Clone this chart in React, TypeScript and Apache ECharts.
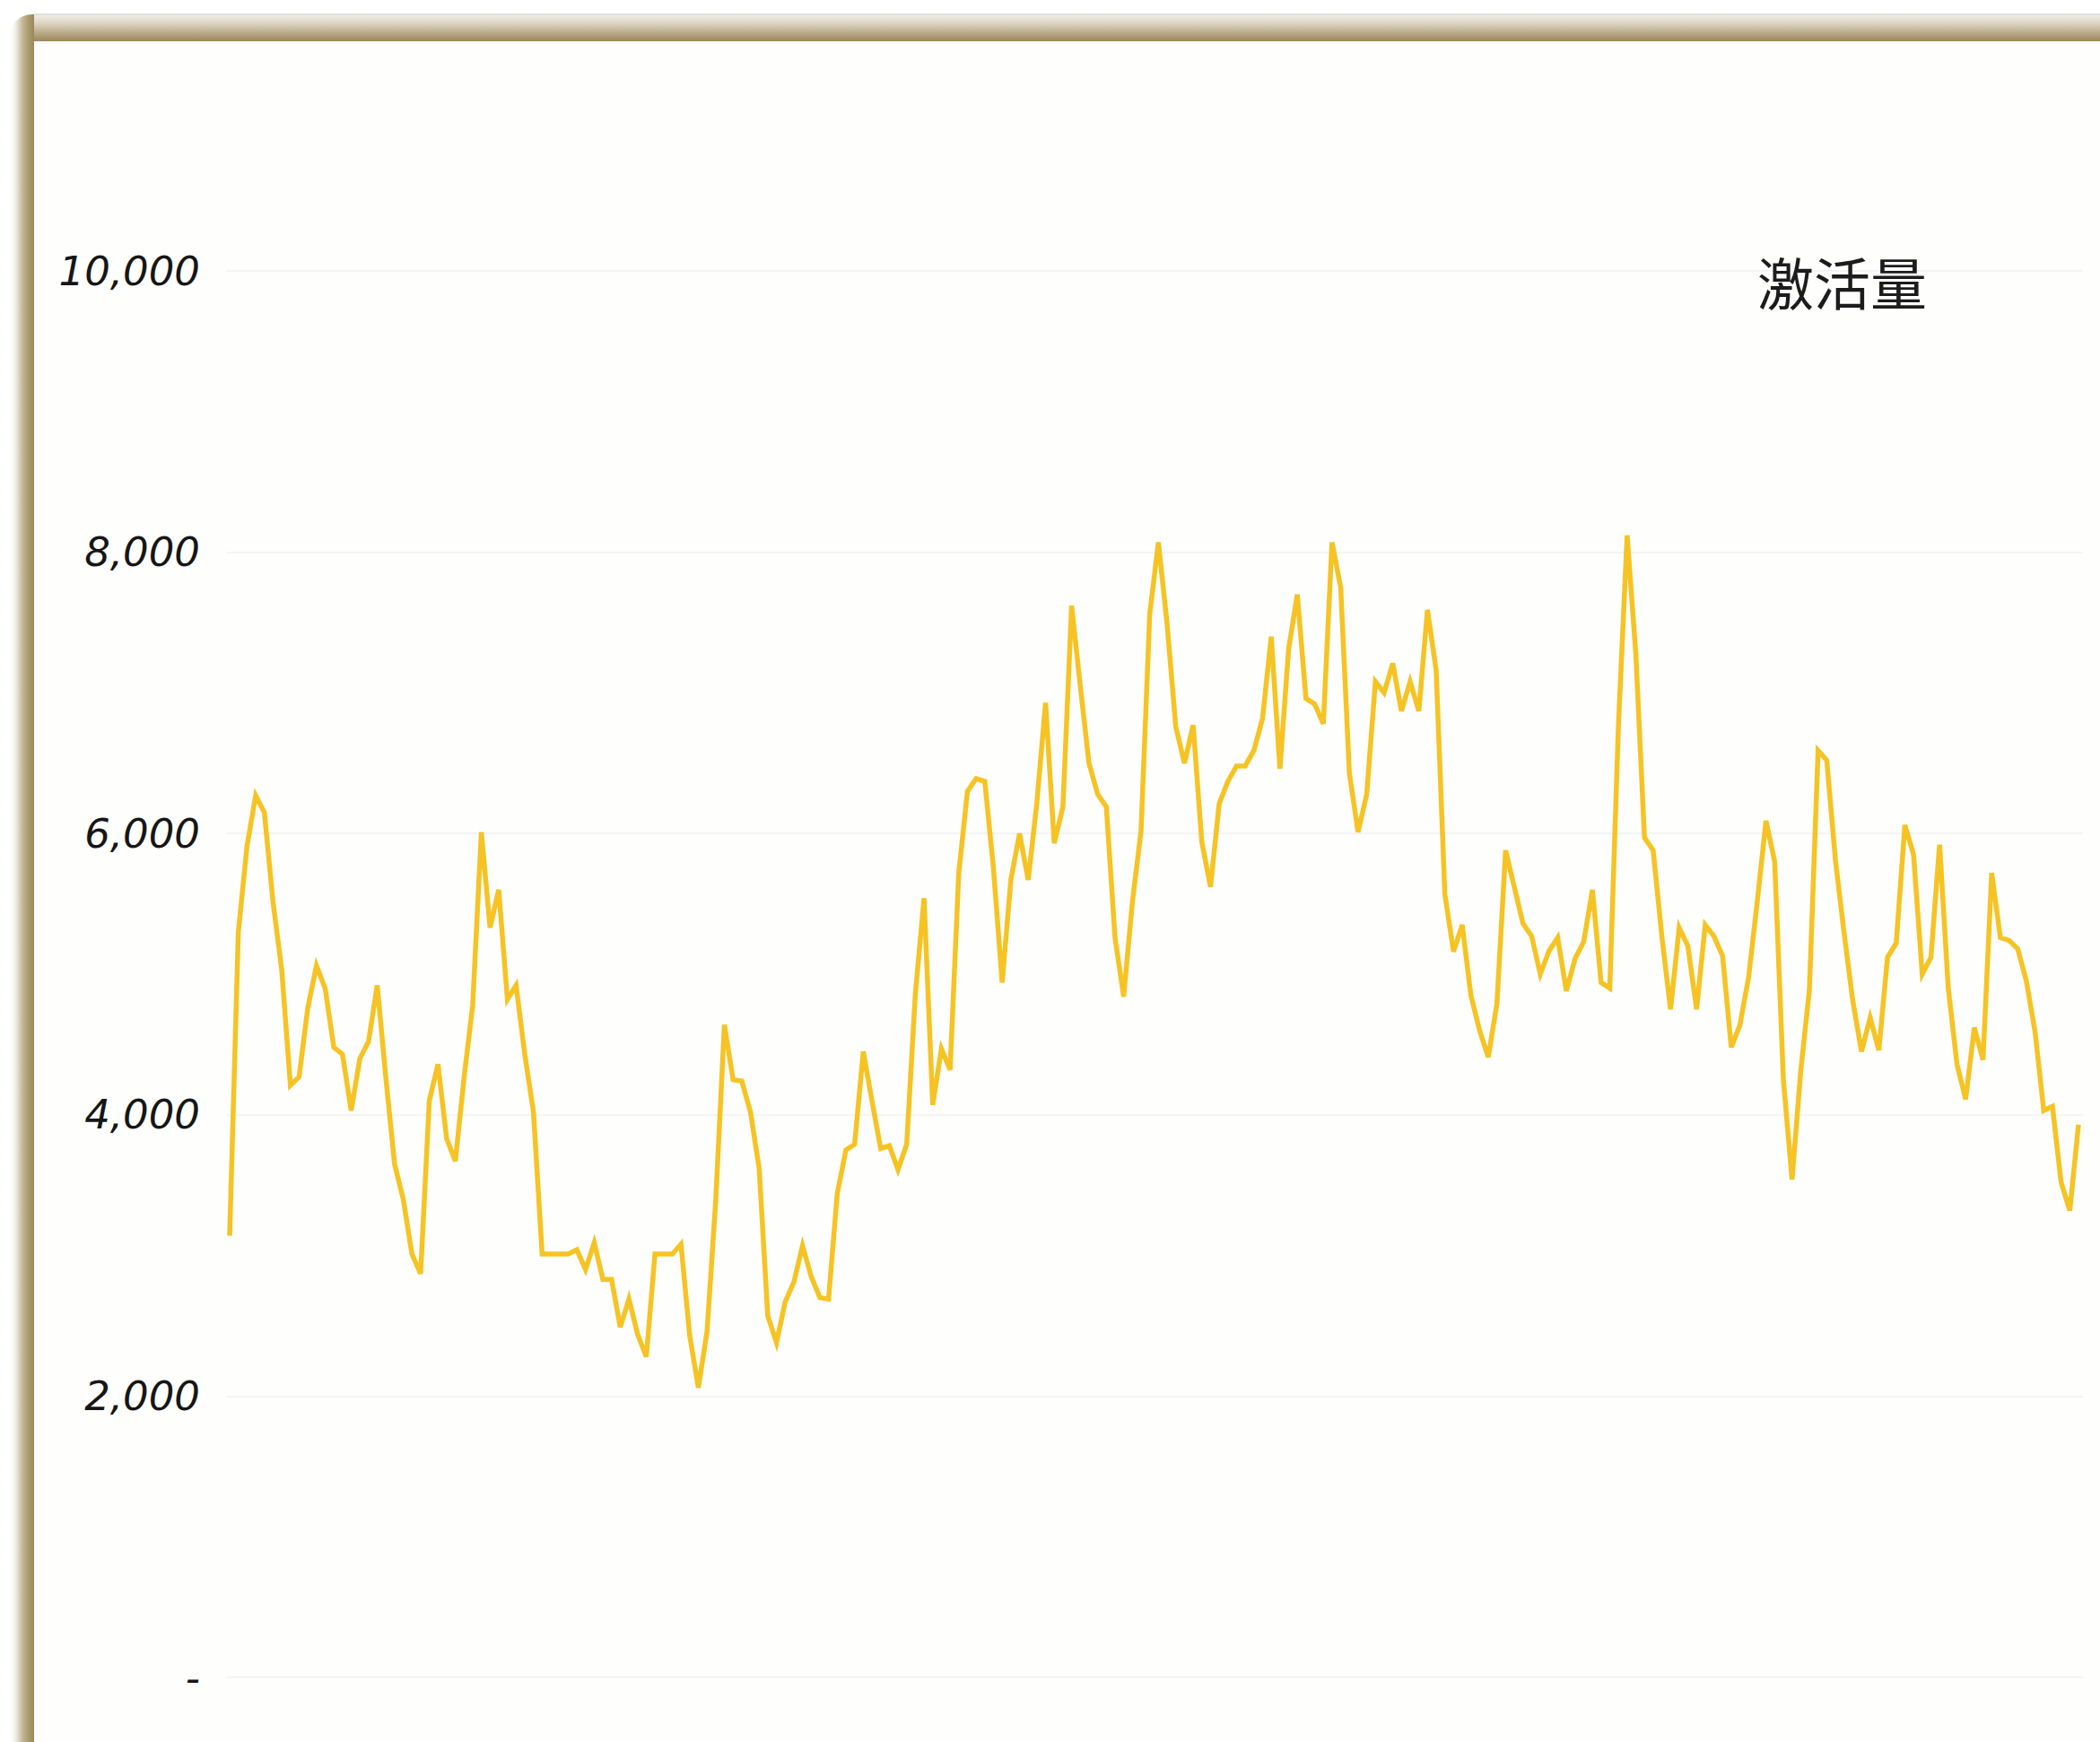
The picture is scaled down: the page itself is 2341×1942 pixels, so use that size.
import { useEffect, useRef } from "react";
import * as echarts from "echarts";

// Daily activation counts
const activations: number[] = [
  3140, 5300, 5910, 6270, 6150, 5510, 5030, 4210, 4270, 4760,
  5060, 4900, 4480, 4430, 4030, 4400, 4520, 4920, 4260, 3650,
  3400, 3010, 2870, 4100, 4360, 3830, 3670, 4260, 4780, 6010,
  5330, 5600, 4820, 4920, 4430, 4020, 3010, 3010, 3010, 3010,
  3040, 2900, 3090, 2830, 2830, 2490, 2690, 2440, 2280, 3010,
  3010, 3010, 3080, 2430, 2060, 2460, 3390, 4640, 4250, 4240,
  4020, 3620, 2570, 2380, 2670, 2810, 3070, 2850, 2700, 2690,
  3440, 3750, 3790, 4450, 4100, 3760, 3780, 3610, 3790, 4860,
  5540, 4070, 4470, 4320, 5720, 6300, 6390, 6370, 5750, 4940,
  5670, 6000, 5670, 6220, 6930, 5930, 6190, 7620, 7050, 6500,
  6280, 6190, 5260, 4840, 5510, 6020, 7560, 8070, 7490, 6760,
  6500, 6770, 5940, 5620, 6210, 6370, 6480, 6480, 6590, 6820,
  7400, 6460, 7310, 7700, 6960, 6920, 6780, 8070, 7750, 6430,
  6010, 6280, 7080, 7000, 7210, 6870, 7080, 6870, 7590, 7160,
  5570, 5160, 5350, 4850, 4600, 4410, 4790, 5880, 5620, 5360,
  5270, 5000, 5165, 5260, 4880, 5110, 5230, 5600, 4940, 4900,
  6770, 8120, 7280, 5970, 5880, 5270, 4750, 5330, 5200, 4750,
  5350, 5270, 5130, 4480, 4640, 4980, 5520, 6090, 5800, 4250,
  3540, 4310, 4890, 6590, 6520, 5810, 5290, 4810, 4450, 4690,
  4460, 5120, 5220, 6060, 5850, 5000, 5120, 5920, 4900, 4360,
  4110, 4620, 4390, 5720, 5260, 5240, 5180, 4950, 4590, 4030,
  4060, 3520, 3320, 3930,
];

// One category per day
const days: string[] = activations.map((_, i) => `第${i + 1}天`);

// Value axis ticks
const yTicks: number[] = [0, 2000, 4000, 6000, 8000, 10000];

const seriesName = "激活量";

export default function App() {
  const ref = useRef<HTMLDivElement>(null);

  useEffect(() => {
    document.body.style.margin = "0";
    document.body.style.overflow = "hidden";
    const chart = echarts.init(ref.current!, null, { renderer: "svg" });

    const yMin = yTicks[0];
    const yMax = yTicks[yTicks.length - 1];
    const step = yTicks[1] - yTicks[0];

    chart.setOption({
      animation: false,
      backgroundColor: "#ffffff",
      title: {
        text: seriesName,
        left: 1954,
        top: 276,
        textStyle: {
          fontFamily: "Noto Sans CJK SC",
          fontSize: 63,
          fontWeight: "normal",
          color: "#1c1c1c",
        },
      },
      grid: [
        { left: 253, right: 19, top: 302, bottom: 72 },
        { left: 256, right: 24, top: 302, bottom: 72 },
      ],
      xAxis: [
        { gridIndex: 0, type: "category", data: days, show: false },
        { gridIndex: 1, type: "category", data: days, boundaryGap: false, show: false },
      ],
      yAxis: [
        {
          gridIndex: 0,
          type: "value",
          min: yMin,
          max: yMax,
          interval: step,
          axisLine: { show: false },
          axisTick: { show: false },
          axisLabel: {
            margin: 30,
            fontFamily: "DejaVu Sans",
            fontStyle: "italic",
            fontSize: 45,
            color: "#161616",
            formatter: (v: number) => (v === 0 ? "-" : v.toLocaleString("en-US")),
          },
          splitLine: { lineStyle: { color: "#f1f1f1", width: 1.5 } },
        },
        {
          gridIndex: 1,
          type: "value",
          min: yMin,
          max: yMax,
          interval: step,
          show: false,
        },
      ],
      series: [
        {
          name: seriesName,
          type: "line",
          xAxisIndex: 1,
          yAxisIndex: 1,
          data: activations,
          symbol: "none",
          lineStyle: { color: "#F6C324", width: 5.5, join: "miter" },
          itemStyle: { color: "#F6C324" },
        },
      ],
      graphic: [
        // white panel
        {
          type: "rect",
          shape: { x: 38, y: 46, width: 2303, height: 1896 },
          style: { fill: "#fefefd" },
          silent: true,
          z: -1,
        },
        // left frame edge
        {
          type: "rect",
          shape: { x: 10, y: 16, width: 28, height: 1926, r: [26, 0, 0, 0] },
          style: {
            fill: new echarts.graphic.LinearGradient(0, 0, 1, 0, [
              { offset: 0, color: "rgba(255,255,255,0)" },
              { offset: 0.3, color: "#ebe7de" },
              { offset: 0.55, color: "#c4b693" },
              { offset: 0.8, color: "#a9986d" },
              { offset: 1, color: "#9b885a" },
            ]),
          },
          silent: true,
        },
        // top frame edge
        {
          type: "rect",
          shape: { x: 38, y: 16, width: 2303, height: 30 },
          style: {
            fill: new echarts.graphic.LinearGradient(0, 0, 0, 1, [
              { offset: 0, color: "#f1efeb" },
              { offset: 0.35, color: "#dbd3bf" },
              { offset: 0.75, color: "#b3a37d" },
              { offset: 1, color: "#9b885a" },
            ]),
          },
          silent: true,
        },
        {
          type: "line",
          shape: { x1: 38, y1: 16, x2: 2341, y2: 16 },
          style: { stroke: "#d9d9d9", lineWidth: 1.5 },
          silent: true,
        },
      ],
    });

    return () => chart.dispose();
  }, []);

  return <div ref={ref} style={{ width: 2341, height: 1942 }} />;
}
